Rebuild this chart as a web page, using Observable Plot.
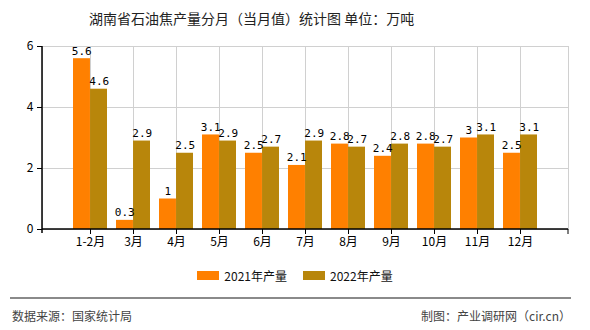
<!DOCTYPE html>
<html><head><meta charset="utf-8">
<script src="https://cdn.jsdelivr.net/npm/d3@7"></script>
<script src="https://cdn.jsdelivr.net/npm/@observablehq/plot@0.6"></script>
<style>
body{margin:0;background:#fff;}
#wrap{position:relative;width:590px;height:330px;overflow:hidden;font-family:"Noto Sans CJK SC",sans-serif;}
#title{position:absolute;left:89px;top:8px;font-size:14px;color:#222;white-space:nowrap;}
#chart{position:absolute;left:0;top:0;}
#legend{position:absolute;left:0;width:590px;top:267px;display:flex;justify-content:center;font-size:12px;color:#111;padding-left:0;}
#legend .item{display:flex;align-items:center;margin:0 8px;}
#legend .sw{width:22px;height:9px;margin-right:5px;}
#line{position:absolute;left:10px;top:297px;width:561px;height:0;border-top:2px solid #8a8a8a;}
#src{position:absolute;left:12px;top:307px;font-size:12px;color:#444;}
#mk{position:absolute;right:19px;top:307px;font-size:12px;color:#444;}
</style></head>
<body>
<div id="wrap">
<div id="chart"></div>
<div id="title">湖南省石油焦产量分月（当月值）统计图 单位：万吨</div>
<div id="legend"></div>
<div id="line"></div>
<div id="src">数据来源：国家统计局</div>
<div id="mk">制图：产业调研网（cir.cn）</div>
</div>
<script>
const months = ["1-2月","3月","4月","5月","6月","7月","8月","9月","10月","11月","12月"];
const v2021 = [5.6,0.3,1,3.1,2.5,2.1,2.8,2.4,2.8,3,2.5];
const v2022 = [4.6,2.9,2.5,2.9,2.7,2.9,2.7,2.8,2.7,3.1,3.1];
const seriesNames = ["2021年产量","2022年产量"];
const colors = ["#FF8000","#B8860B"];
const yTicks = [0,2,4,6];

const rows = [];
months.forEach((m,i)=>{
  rows.push({m, s: seriesNames[0], v: v2021[i]});
  rows.push({m, s: seriesNames[1], v: v2022[i]});
});
const r21 = rows.filter(d=>d.s===seriesNames[0]);
const r22 = rows.filter(d=>d.s===seriesNames[1]);

const W=590,H=260,ML=42,MR=22,MT=46,MB=31;
const step=(W-ML-MR)/(months.length-0.2+1.2);
const bw=step*0.8, half=bw/2, q=bw/4;

const plot = Plot.plot({
  width: W, height: H,
  marginLeft: ML, marginRight: MR, marginTop: MT, marginBottom: MB,
  style: {fontFamily: '"Noto Sans CJK SC", sans-serif', fontSize: "12px", color: "#000", background: "transparent"},
  x: {domain: months, paddingInner: 0.2, paddingOuter: 0.6, label: null, tickSize: 5, tickPadding: 3},
  y: {domain: [0,6], ticks: yTicks, label: null, tickSize: 5, tickPadding: 4},
  marks: [
    Plot.gridY(yTicks.slice(1), {stroke: "#d0d0d0", strokeOpacity: 1}),
    Plot.ruleX(months, {x: d=>d, stroke: "#d0d0d0", strokeOpacity: 1}),
    Plot.frame({stroke: "#d0d0d0"}),
    Plot.barY(r21, {x: "m", y: "v", fill: colors[0], insetRight: half - 0.5, insetLeft: 0}),
    Plot.barY(r22, {x: "m", y: "v", fill: colors[1], insetLeft: half - 0.5, insetRight: 0}),
    Plot.text(r21, {x: "m", y: "v", text: d=>String(d.v), dx: -q, dy: -4, lineAnchor: "bottom", fontFamily: '"DejaVu Sans Mono", monospace', fontSize: 11, fill: "#000"}),
    Plot.text(r22, {x: "m", y: "v", text: d=>String(d.v), dx: q, dy: -4, lineAnchor: "bottom", fontFamily: '"DejaVu Sans Mono", monospace', fontSize: 11, fill: "#000"}),
    Plot.axisX({tickSize: 5, tickPadding: 3, label: null}),
    Plot.axisY({ticks: yTicks, tickFormat: d=>String(d), tickSize: 5, tickPadding: 4, label: null})
  ]
});
// axis lines (black) using plot scales
const xr = plot.scale("x").range, ys = plot.scale("y");
const y0 = ys.apply(0), yTop = ys.apply(6);
const svg = d3.select(plot);
svg.append("line").attr("x1", xr[0]).attr("x2", xr[0]).attr("y1", yTop).attr("y2", y0+4).attr("stroke","#000").attr("stroke-width",1.5);
svg.append("line").attr("x1", xr[0]).attr("x2", xr[1]).attr("y1", y0).attr("y2", y0).attr("stroke","#000").attr("stroke-width",1.5);
svg.append("line").attr("x1", xr[1]).attr("x2", xr[1]).attr("y1", y0).attr("y2", y0+5).attr("stroke","#000");
document.getElementById("chart").appendChild(plot);

const lg = document.getElementById("legend");
seriesNames.forEach((s,i)=>{
  const it=document.createElement("div"); it.className="item";
  const sw=document.createElement("span"); sw.className="sw"; sw.style.background=colors[i];
  const t=document.createElement("span"); t.textContent=s;
  it.appendChild(sw); it.appendChild(t); lg.appendChild(it);
});
</script>
</body></html>
